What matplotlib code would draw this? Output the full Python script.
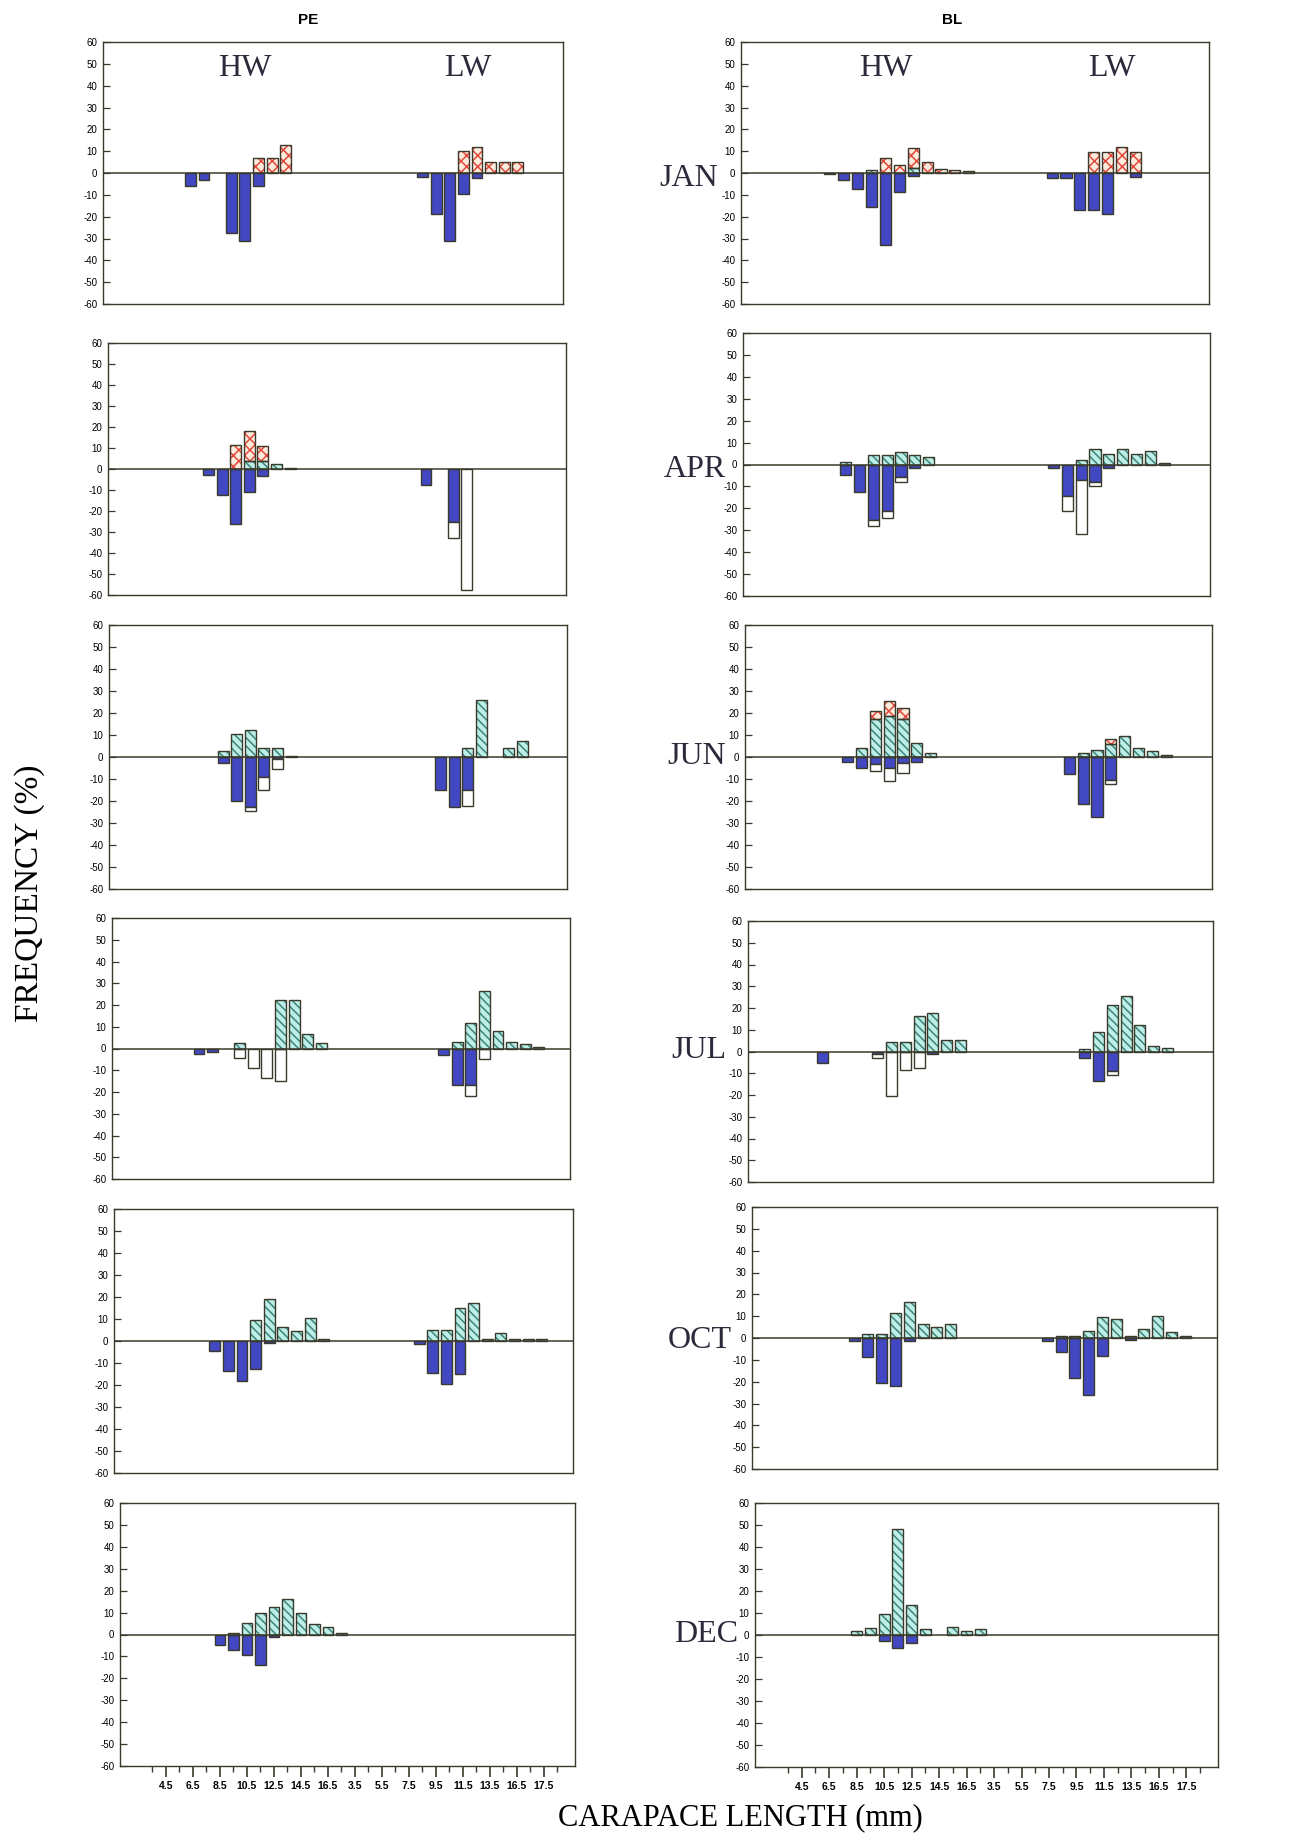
"""Carapace-length frequency histograms, PE vs BL, HW vs LW, by month."""
import matplotlib
matplotlib.use('Agg')
import matplotlib.pyplot as plt
import numpy as np

# ── data: (zone, carapace length class mm, cyan, red, blue, white) in % ──
# cyan/red are stacked upwards, blue/white stacked downwards
JAN_PE = [
    ('HW', 7.5, 0, 0, 6, 0), ('HW', 8.5, 0, 0, 3, 0), ('HW', 10.5, 0, 0, 27.5, 0),
    ('HW', 11.5, 0, 0, 31, 0), ('HW', 12.5, 0, 6.7, 6, 0), ('HW', 13.5, 0, 6.7, 0, 0),
    ('HW', 14.5, 0, 13, 0, 0),
    ('LW', 9.5, 0, 0, 2, 0), ('LW', 10.5, 0, 0, 19, 0), ('LW', 11.5, 0, 0, 31, 0),
    ('LW', 12.5, 0, 10, 9.5, 0), ('LW', 13.5, 0, 12, 2.3, 0), ('LW', 14.5, 0, 5, 0, 0),
    ('LW', 15.5, 0, 5, 0, 0), ('LW', 16.5, 0, 5, 0, 0),
]
JAN_BL = [
    ('HW', 7.5, 0, 0, 0.5, 0), ('HW', 8.5, 0, 0, 3.4, 0), ('HW', 9.5, 0, 0, 7.4, 0),
    ('HW', 10.5, 1.4, 0, 15.8, 0), ('HW', 11.5, 0, 7, 33, 0), ('HW', 12.5, 0, 3.5, 8.5, 0),
    ('HW', 13.5, 2.3, 9.2, 1.2, 0), ('HW', 14.5, 0, 5, 0, 0), ('HW', 15.5, 0, 2, 0, 0),
    ('HW', 16.5, 0, 1.5, 0, 0), ('HW', 17.5, 0, 0.7, 0, 0),
    ('LW', 8.5, 0, 0, 2.4, 0), ('LW', 9.5, 0, 0, 2.4, 0), ('LW', 10.5, 0, 0, 17, 0),
    ('LW', 11.5, 0, 9.6, 17, 0), ('LW', 12.5, 0, 9.6, 19, 0), ('LW', 13.5, 0, 12, 0, 0),
    ('LW', 14.5, 0, 9.6, 2, 0),
]
APR_PE = [
    ('HW', 8.5, 0, 0, 3, 0), ('HW', 9.5, 0, 0, 12.4, 0), ('HW', 10.5, 0, 11.6, 26, 0),
    ('HW', 11.5, 3.6, 14.7, 10.8, 0), ('HW', 12.5, 3.6, 7.5, 3.5, 0),
    ('HW', 13.5, 2.4, 0, 0, 0), ('HW', 14.5, 0.5, 0, 0, 0),
    ('LW', 9.5, 0, 0, 7.8, 0), ('LW', 11.5, 0, 0, 25, 8), ('LW', 12.5, 0, 0, 0, 57.8),
]
APR_BL = [
    ('HW', 8.5, 1, 0, 4.7, 0), ('HW', 9.5, 0, 0, 12.6, 0), ('HW', 10.5, 4.3, 0, 25.4, 2.5),
    ('HW', 11.5, 4.4, 0, 21, 3.4), ('HW', 12.5, 5.5, 0, 5.8, 2.4), ('HW', 13.5, 4.3, 0, 1.4, 0),
    ('HW', 14.5, 3.3, 0, 0, 0),
    ('LW', 8.5, 0, 0, 1.8, 0), ('LW', 9.5, 0, 0, 14.2, 7.1), ('LW', 10.5, 2.1, 0, 7, 24.7),
    ('LW', 11.5, 7.2, 0, 8, 2), ('LW', 12.5, 4.6, 0, 1.7, 0), ('LW', 13.5, 7.2, 0, 0, 0),
    ('LW', 14.5, 4.6, 0, 0, 0), ('LW', 15.5, 6.1, 0, 0, 0), ('LW', 16.5, 0.6, 0, 0, 0),
]
JUN_PE = [
    ('HW', 9.5, 2.7, 0, 2.9, 0), ('HW', 10.5, 10.3, 0, 20, 0), ('HW', 11.5, 12.3, 0, 22.7, 1.7),
    ('HW', 12.5, 3.9, 0, 9, 6), ('HW', 13.5, 3.9, 0, 1, 4.3), ('HW', 14.5, 0.5, 0, 0, 0),
    ('LW', 10.5, 0, 0, 15, 0), ('LW', 11.5, 0, 0, 22.6, 0), ('LW', 12.5, 3.9, 0, 15, 7.4),
    ('LW', 13.5, 25.9, 0, 0, 0), ('LW', 15.5, 3.9, 0, 0, 0), ('LW', 16.5, 7.3, 0, 0, 0),
]
JUN_BL = [
    ('HW', 8.5, 0, 0, 2.3, 0), ('HW', 9.5, 4, 0, 4.8, 0), ('HW', 10.5, 17.4, 3.6, 3.3, 3.2),
    ('HW', 11.5, 18.8, 6.7, 4.8, 6.2), ('HW', 12.5, 17.4, 5.1, 2.7, 4.5),
    ('HW', 13.5, 6.3, 0, 2.3, 0), ('HW', 14.5, 1.8, 0, 0, 0),
    ('LW', 9.5, 0, 0, 7.6, 0), ('LW', 10.5, 1.8, 0, 21.5, 0), ('LW', 11.5, 3, 0, 27.3, 0),
    ('LW', 12.5, 6, 2, 10.6, 1.9), ('LW', 13.5, 9.7, 0, 0, 0), ('LW', 14.5, 4, 0, 0, 0),
    ('LW', 15.5, 2.7, 0, 0, 0), ('LW', 16.5, 1, 0, 0, 0),
]
JUL_PE = [
    ('HW', 7.5, 0, 0, 2.7, 0), ('HW', 8.5, 0, 0, 1.5, 0), ('HW', 10.5, 2.3, 0, 0, 4.3),
    ('HW', 11.5, 0, 0, 0, 8.9), ('HW', 12.5, 0, 0, 0, 13.7), ('HW', 13.5, 22.1, 0, 0, 15.1),
    ('HW', 14.5, 22.1, 0, 0, 0), ('HW', 15.5, 6.6, 0, 0, 0), ('HW', 16.5, 2.3, 0, 0, 0),
    ('LW', 10.5, 0, 0, 3, 0), ('LW', 11.5, 3, 0, 17, 0), ('LW', 12.5, 11.6, 0, 17, 4.7),
    ('LW', 13.5, 26.4, 0, 0, 4.6), ('LW', 14.5, 7.9, 0, 0, 0), ('LW', 15.5, 3, 0, 0, 0),
    ('LW', 16.5, 2, 0, 0, 0), ('LW', 17.5, 0.9, 0, 0, 0),
]
JUL_BL = [
    ('HW', 6.5, 0, 0, 5.4, 0), ('HW', 10.5, 0, 0, 1, 2.2), ('HW', 11.5, 4.4, 0, 0, 20.4),
    ('HW', 12.5, 4.4, 0, 0, 8.6), ('HW', 13.5, 16.4, 0, 0, 7.7), ('HW', 14.5, 17.9, 0, 1, 0),
    ('HW', 15.5, 5.2, 0, 0, 0), ('HW', 16.5, 5.2, 0, 0, 0),
    ('LW', 10.5, 1, 0, 3, 0), ('LW', 11.5, 9, 0, 13.5, 0), ('LW', 12.5, 21.3, 0, 8.9, 2),
    ('LW', 13.5, 25.6, 0, 0, 0), ('LW', 14.5, 12.3, 0, 0, 0), ('LW', 15.5, 2.3, 0, 0, 0),
    ('LW', 16.5, 1.5, 0, 0, 0),
]
OCT_PE = [
    ('HW', 8.5, 0, 0, 4.5, 0), ('HW', 9.5, 0, 0, 13.6, 0), ('HW', 10.5, 0, 0, 18.2, 0),
    ('HW', 11.5, 9.4, 0, 12.9, 0), ('HW', 12.5, 19.2, 0, 0.8, 0), ('HW', 13.5, 6.5, 0, 0, 0),
    ('HW', 14.5, 4.4, 0, 0, 0), ('HW', 15.5, 10.6, 0, 0, 0), ('HW', 16.5, 0.8, 0, 0, 0),
    ('LW', 8.5, 0, 0, 1.2, 0), ('LW', 9.5, 5.2, 0, 14.7, 0), ('LW', 10.5, 4.8, 0, 19.7, 0),
    ('LW', 11.5, 15.2, 0, 14.8, 0), ('LW', 12.5, 17.4, 0, 0, 0), ('LW', 13.5, 1, 0, 0, 0),
    ('LW', 14.5, 3.6, 0, 0, 0), ('LW', 15.5, 0.8, 0, 0, 0), ('LW', 16.5, 0.8, 0, 0, 0),
    ('LW', 17.5, 0.8, 0, 0, 0),
]
OCT_BL = [
    ('HW', 8.5, 0, 0, 1.2, 0), ('HW', 9.5, 1.7, 0, 8.5, 0), ('HW', 10.5, 1.7, 0, 20.7, 0),
    ('HW', 11.5, 11.4, 0, 21.8, 0), ('HW', 12.5, 16.3, 0, 1.2, 0), ('HW', 13.5, 6.5, 0, 0, 0),
    ('HW', 14.5, 4.9, 0, 0, 0), ('HW', 15.5, 6.5, 0, 0, 0),
    ('LW', 7.5, 0, 0, 1.5, 0), ('LW', 8.5, 0.9, 0, 6.5, 0), ('LW', 9.5, 0.9, 0, 18.1, 0),
    ('LW', 10.5, 3, 0, 26.3, 0), ('LW', 11.5, 9.4, 0, 8.1, 0), ('LW', 12.5, 8.5, 0, 0, 0),
    ('LW', 13.5, 0.9, 0, 0.9, 0), ('LW', 14.5, 4.1, 0, 0, 0), ('LW', 15.5, 9.9, 0, 0, 0),
    ('LW', 16.5, 2.6, 0, 0, 0), ('LW', 17.5, 1, 0, 0, 0),
]
DEC_PE = [
    ('HW', 8.5, 0, 0, 4.6, 0), ('HW', 9.5, 0.8, 0, 7.1, 0), ('HW', 10.5, 5.3, 0, 9.4, 0),
    ('HW', 11.5, 9.9, 0, 14, 0), ('HW', 12.5, 12.6, 0, 1, 0), ('HW', 13.5, 16.4, 0, 0, 0),
    ('HW', 14.5, 9.9, 0, 0, 0), ('HW', 15.5, 5, 0, 0, 0), ('HW', 16.5, 3.2, 0, 0, 0),
    ('HW', 17.5, 0.7, 0, 0, 0),
]
DEC_BL = [
    ('HW', 8.5, 1.8, 0, 0, 0), ('HW', 9.5, 3, 0, 0, 0), ('HW', 10.5, 9.7, 0, 2.9, 0),
    ('HW', 11.5, 48.2, 0, 5.9, 0), ('HW', 12.5, 13.5, 0, 3.8, 0), ('HW', 13.5, 2.7, 0, 0, 0),
    ('HW', 15.5, 3.8, 0, 0, 0), ('HW', 16.5, 1.7, 0, 0, 0), ('HW', 17.5, 2.7, 0, 0, 0),
]

MONTHS = ['JAN', 'APR', 'JUN', 'JUL', 'OCT', 'DEC']
PE_DATA = [JAN_PE, APR_PE, JUN_PE, JUL_PE, OCT_PE, DEC_PE]
BL_DATA = [JAN_BL, APR_BL, JUN_BL, JUL_BL, OCT_BL, DEC_BL]

HW_CLASSES = [3.5 + i for i in range(15)]          # 3.5 .. 17.5 mm
LW_CLASSES = [3.5 + i for i in range(16)]          # 3.5 .. 18.5 mm
HW_LABELLED = [4.5, 6.5, 8.5, 10.5, 12.5, 14.5, 16.5]
LW_LABELLED = [3.5, 5.5, 7.5, 9.5, 11.5, 13.5, 15.5, 17.5]
TICK_TEXT = ['4.5', '6.5', '8.5', '10.5', '12.5', '14.5', '16.5',
             '3.5', '5.5', '7.5', '9.5', '11.5', '13.5', '16.5', '17.5']
Y_TICKS = list(range(-60, 61, 10))

# ── style ──
BLUE = '#4247C2'
CYAN = '#BDEEE8'
TEAL = '#3D8577'
RED_HATCH = '#E2493C'
RED_FILL = '#FCEBDD'
EDGE = '#3A3A2C'
INK = '#2A2A3A'
SERIF = ['Liberation Serif', 'DejaVu Serif']
SANS = ['Liberation Sans', 'DejaVu Sans']
plt.rcParams['hatch.linewidth'] = 1.1

W, H = 1309, 1841
LEFT_BOXES = [(103, 42, 563, 304), (108, 343, 566, 595), (109, 625, 567, 889),
              (112, 918, 570, 1179), (114, 1209, 573, 1473), (120, 1503, 575, 1766)]
RIGHT_BOXES = [(741, 42, 1209, 304), (743, 333, 1210, 596), (745, 625, 1212, 889),
               (748, 921, 1213, 1182), (752, 1207, 1217, 1469), (755, 1503, 1218, 1767)]
MONTH_POS = [(689, 178), (695, 469), (697, 757), (699, 1051), (700, 1340), (706, 1635)]


def slot(zone, cl):
    # categorical position: HW classes first, then LW, two empty slots at the left
    if zone == 'HW':
        return 2 + HW_CLASSES.index(cl)
    return 2 + len(HW_CLASSES) + LW_CLASSES.index(cl)


def add_px_axes(fig, box):
    l, t, r, b = box
    return fig.add_axes([l / W, 1 - b / H, (r - l) / W, (b - t) / H])


def draw_panel(ax, rows, bottom_row, top_row):
    x = np.array([slot(r[0], r[1]) for r in rows], dtype=float)
    cyan = np.array([r[2] for r in rows], dtype=float)
    red = np.array([r[3] for r in rows], dtype=float)
    blue = np.array([r[4] for r in rows], dtype=float)
    white = np.array([r[5] for r in rows], dtype=float)
    bw = 0.8

    m = cyan > 0
    ax.bar(x[m], cyan[m], bw, color=CYAN, edgecolor=TEAL, hatch='\\\\\\\\', lw=0, zorder=2)
    ax.bar(x[m], cyan[m], bw, fill=False, edgecolor=EDGE, lw=1.0, zorder=2.5)
    m = red > 0
    ax.bar(x[m], red[m], bw, bottom=cyan[m], color=RED_FILL, edgecolor=RED_HATCH,
           hatch='xxx', lw=0, zorder=2)
    ax.bar(x[m], red[m], bw, bottom=cyan[m], fill=False, edgecolor=EDGE, lw=1.0, zorder=2.5)
    m = blue > 0
    ax.bar(x[m], -blue[m], bw, color=BLUE, edgecolor=EDGE, lw=1.0, zorder=2)
    m = white > 0
    ax.bar(x[m], -white[m], bw, bottom=-blue[m], color='white', edgecolor=EDGE,
           lw=1.0, zorder=2)

    ax.axhline(0, color=EDGE, lw=1.1, zorder=3)
    ax.set_xlim(-0.4, 33.3)
    ax.set_ylim(-60, 60)
    ax.set_yticks(Y_TICKS)
    ax.set_yticklabels([str(v) for v in Y_TICKS], fontsize=7, family=SANS)
    ax.tick_params(axis='y', direction='in', length=5, width=0.9, color=EDGE, pad=4)
    for sp in ax.spines.values():
        sp.set_color(EDGE)
        sp.set_linewidth(1.0)

    if bottom_row:
        major = [slot('HW', c) for c in HW_LABELLED] + [slot('LW', c) for c in LW_LABELLED]
        minor = list(range(2, 33))
        ax.set_xticks(minor, minor=True)
        ax.set_xticks(major)
        ax.set_xticklabels(TICK_TEXT, fontsize=7.5, fontweight='bold', family=SANS)
        ax.tick_params(axis='x', which='major', direction='out', length=8, width=1.2,
                       color=EDGE, pad=3)
        ax.tick_params(axis='x', which='minor', direction='out', length=4, width=1.0,
                       color=EDGE)
    else:
        ax.set_xticks([])

    if top_row:
        ax.text(10, 48, 'HW', ha='center', va='center', fontsize=23, family=SERIF, color=INK)
        ax.text(26.3, 48, 'LW', ha='center', va='center', fontsize=23, family=SERIF, color=INK)


fig = plt.figure(figsize=(W / 100, H / 100), dpi=100, facecolor='white')

for i in range(6):
    ax = add_px_axes(fig, LEFT_BOXES[i])
    draw_panel(ax, PE_DATA[i], i == 5, i == 0)
    ax = add_px_axes(fig, RIGHT_BOXES[i])
    draw_panel(ax, BL_DATA[i], i == 5, i == 0)
    mx, my = MONTH_POS[i]
    fig.text(mx / W, 1 - my / H, MONTHS[i], ha='center', va='center', fontsize=23,
             family=SERIF, color=INK)

fig.text(308 / W, 1 - 20 / H, 'PE', ha='center', va='center', fontsize=11,
         fontweight='bold', family=SANS)
fig.text(952 / W, 1 - 20 / H, 'BL', ha='center', va='center', fontsize=11,
         fontweight='bold', family=SANS)
fig.text(30 / W, 1 - 893 / H, 'FREQUENCY (%)', rotation=90, ha='center', va='center',
         fontsize=24, family=SERIF)
fig.text(740 / W, 1 - 1818 / H, 'CARAPACE LENGTH (mm)', ha='center', va='center',
         fontsize=22, family=SERIF)

fig.savefig('out.png', dpi=100, facecolor='white')
plt.close(fig)
